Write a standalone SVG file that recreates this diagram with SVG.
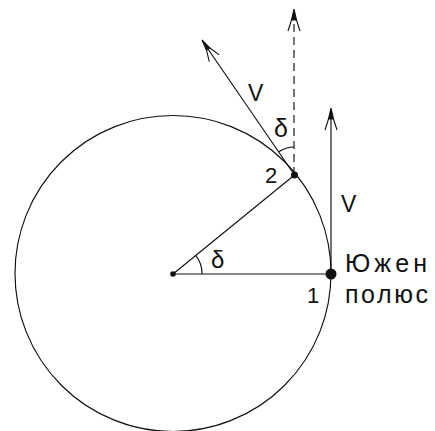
<svg xmlns="http://www.w3.org/2000/svg" width="435" height="431" viewBox="0 0 435 431">
<style>
.ln{fill:none;stroke:#111;stroke-width:1.15}
.t{font-family:"Liberation Sans",Arial,sans-serif;fill:#111}
</style>
<rect width="435" height="431" fill="#fff"/>
<g id="circle">
<circle class="ln" cx="173" cy="273.5" r="158"/>
</g>
<g id="connectors">
<line class="ln" x1="173" y1="274" x2="331" y2="274"/>
<line class="ln" x1="173" y1="274" x2="294.5" y2="175"/>
<line class="ln" x1="331" y1="274" x2="331" y2="109"/>
<line class="ln" x1="294.5" y1="175" x2="202.5" y2="41"/>
<line class="ln" x1="294" y1="175" x2="294" y2="11" stroke-dasharray="8,5"/>
<path class="ln" d="M202,274 A29,29 0 0 0 195.5,255.2"/>
<path class="ln" d="M278.9,151.8 A28,28 0 0 1 294,147"/>
</g>
<g id="arrowheads" fill="#111" stroke="#111" stroke-width="1.1">
<g transform="translate(331,108)">
<path d="M0,0 L-2.5,11 L2.5,11 Z"/>
<path d="M-2.5,11 L-6,22 M2.5,11 L6,22" fill="none"/>
</g>
<g transform="translate(294,9)">
<path d="M0,0 L-2.5,11 L2.5,11 Z"/>
<path d="M-2.5,11 L-6,22 M2.5,11 L6,22" fill="none"/>
</g>
<g transform="translate(202,40) rotate(-34)">
<path d="M0,0 L-2,11 L2,11 Z"/>
<path d="M-2,11 L-6,22 M2,11 L6,22" fill="none"/>
</g>
</g>
<g id="points" fill="#111">
<circle cx="173" cy="274" r="2.8"/>
<circle cx="294.5" cy="175" r="3.5"/>
<circle cx="331" cy="274" r="5.5"/>
</g>
<g id="labels" class="t">
<text class="t" x="248" y="101" font-size="23">V</text>
<text class="t" x="341" y="212" font-size="23">V</text>
<text class="t" x="274" y="137" font-size="25">δ</text>
<text class="t" x="211" y="268" font-size="24">δ</text>
<text class="t" x="265" y="183" font-size="22">2</text>
<text class="t" x="307" y="303" font-size="22">1</text>
<text class="t" x="345" y="272" font-size="25" textLength="82" lengthAdjust="spacing">Южен</text>
<text class="t" x="345" y="303" font-size="25" textLength="83" lengthAdjust="spacing">полюс</text>
</g>
</svg>
